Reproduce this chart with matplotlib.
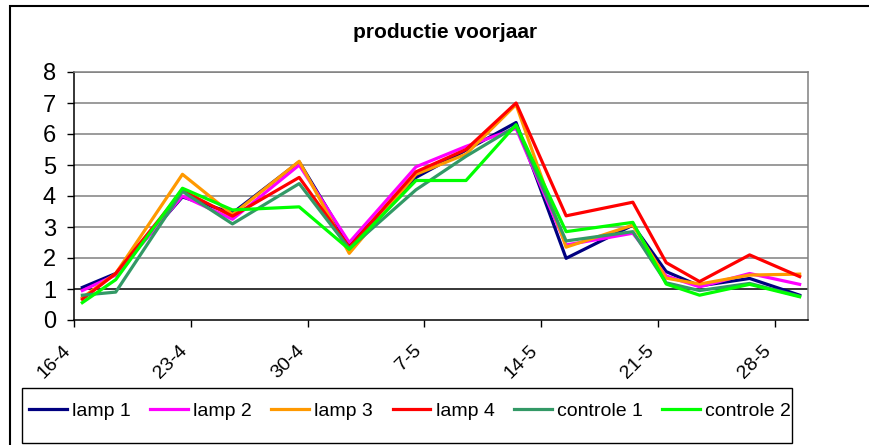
import matplotlib
matplotlib.use("Agg")
from matplotlib import pyplot
from matplotlib.patches import Rectangle

pyplot.rcParams["font.family"] = ["Liberation Sans", "DejaVu Sans"]

# measurement dates (day-month)
dates = ["16-4", "18-4", "22-4", "25-4", "29-4", "2-5", "6-5", "9-5",
         "12-5", "15-5", "19-5", "21-5", "23-5", "26-5", "29-5"]

lamp1 = [1.05, 1.5, 3.97, 3.45, 5.1, 2.42, 4.6, 5.48, 6.37, 1.99, 3.06, 1.56, 1.1, 1.34, 0.8]
lamp2 = [0.95, 1.45, 4.0, 3.25, 5.0, 2.5, 4.94, 5.6, 6.18, 2.42, 2.8, 1.42, 1.07, 1.5, 1.15]
lamp3 = [0.72, 1.5, 4.7, 3.4, 5.12, 2.15, 4.7, 5.35, 6.95, 2.35, 3.06, 1.35, 1.16, 1.45, 1.48]
lamp4 = [0.67, 1.5, 4.17, 3.35, 4.6, 2.35, 4.78, 5.5, 7.0, 3.36, 3.8, 1.85, 1.24, 2.1, 1.4]
controle1 = [0.8, 0.9, 4.15, 3.1, 4.4, 2.3, 4.2, 5.28, 6.25, 2.55, 2.85, 1.2, 0.95, 1.18, 0.77]
controle2 = [0.56, 1.3, 4.25, 3.55, 3.65, 2.28, 4.5, 4.5, 6.3, 2.85, 3.15, 1.16, 0.8, 1.15, 0.75]

tick_labels = ["16-4", "23-4", "30-4", "7-5", "14-5", "21-5", "28-5"]


def day_number(label):
    # days counted from 16 April
    day, month = (int(v) for v in label.split("-"))
    return day - 16 if month == 4 else day + 14


x = [day_number(d) + 0.5 for d in dates]

fig = pyplot.figure(figsize=(8.7, 4.45), dpi=100)
ax = fig.add_axes([74 / 870, 1 - 320 / 445, (808 - 74) / 870, (320 - 72) / 445])

series = [
    (lamp1, "#000080", "lamp 1"),
    (lamp2, "#FF00FF", "lamp 2"),
    (lamp3, "#FF9900", "lamp 3"),
    (lamp4, "#FF0000", "lamp 4"),
    (controle1, "#339966", "controle 1"),
    (controle2, "#00FF00", "controle 2"),
]
for values, color, label in series:
    ax.plot(x, values, color=color, lw=2.3, label=label)

ax.set_xlim(0, 44)
ax.set_ylim(0, 8)
ax.set_yticks(range(0, 9))
ax.set_xticks([day_number(t) for t in tick_labels])
ax.set_xticklabels(tick_labels, rotation=45, ha="right", va="top")
ax.tick_params(axis="y", labelsize=17, length=5, width=1, pad=8)
ax.tick_params(axis="x", labelsize=14, length=5, width=1, pad=11)

for v in range(1, 9):
    ax.axhline(v, color="black" if v == 1 else "#808080", lw=1.1, zorder=0)

ax.spines["left"].set_color("black")
ax.spines["bottom"].set_color("black")
ax.spines["top"].set_color("#808080")
ax.spines["right"].set_color("#808080")
for s in ax.spines.values():
    s.set_linewidth(1.1)

fig.text(445 / 870, 1 - 33 / 445, "productie voorjaar", ha="center", va="center",
         fontsize=15, fontweight="bold")

# chart frame and legend box
fig.patches.append(Rectangle((10.5 / 870, -0.1), 1.0, 0.1 + 1 - 6 / 445,
                             transform=fig.transFigure, fill=False,
                             edgecolor="black", lw=1.5))
fig.patches.append(Rectangle((22 / 870, 1 - 443 / 445), (792 - 22) / 870, (443 - 388) / 445,
                             transform=fig.transFigure, fill=False,
                             edgecolor="black", lw=1.0))

handles, labels = ax.get_legend_handles_labels()
fig.legend(handles, labels, loc="center", bbox_to_anchor=(410 / 870, 1 - 411 / 445),
           ncol=6, frameon=False, fontsize=14, handlelength=1.95,
           handletextpad=0.26, columnspacing=1.0, borderpad=0, borderaxespad=0)

fig.savefig("out.png", dpi=100)
